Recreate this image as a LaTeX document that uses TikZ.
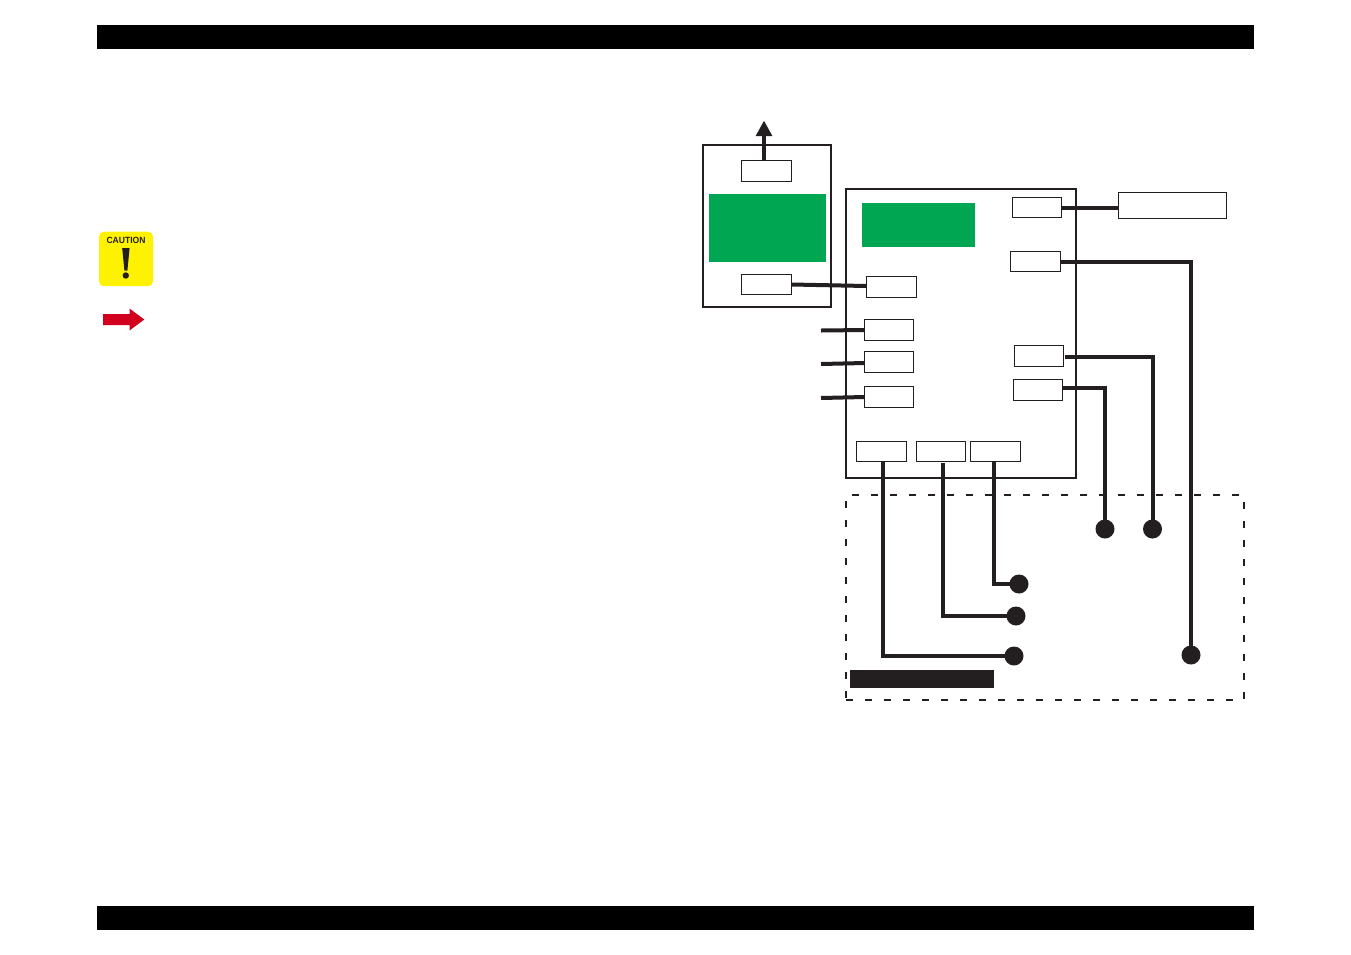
\documentclass[tikz,border=0pt]{standalone}
\usepackage{fontspec}
\setmainfont{Liberation Sans}
\usetikzlibrary{arrows.meta}
\definecolor{ink}{HTML}{231F20}
\definecolor{pcb}{HTML}{00A651}
\definecolor{warn}{HTML}{FFF200}
\definecolor{redarrow}{HTML}{D2001E}
\tikzset{
  rect/.style={rectangle,inner sep=0pt,outer sep=0pt,anchor=north west},
  frame/.style={rect,draw=ink,line width=2pt,fill=white},
  port/.style={rect,draw=ink,line width=1pt,fill=white},
  greenblock/.style={rect,fill=pcb},
  blackbar/.style={rect,fill=black},
  darkbar/.style={rect,fill=ink},
  wire/.style={draw=ink,line width=4pt,line join=miter},
  dot/.style={circle,fill=ink,inner sep=0pt,outer sep=0pt,minimum size=19pt},
  dashbox/.style={rect,draw=ink,line width=1.4pt,dash pattern=on 7pt off 12pt}
}
\newcommand{\bx}[6]{\node[#1,minimum width=#5pt-#3pt,minimum height=#6pt-#4pt] (#2) at (#3,#4) {};}
\begin{document}
\begin{tikzpicture}[x=1pt,y=-1pt]
\useasboundingbox (0,0) rectangle (1351,954);
\fill[white] (0,0) rectangle (1351,954);
% header and footer
\bx{blackbar}{hdr}{97}{25}{1254}{49}
\bx{blackbar}{ftr}{97}{906}{1254}{930}
% caution icon
\node[rect,fill=warn,rounded corners=5pt,minimum width=54pt,minimum height=54.5pt] (caution) at (99,231.7) {};
\node[font=\fontsize{9pt}{9pt}\selectfont,text=ink,inner sep=0pt,xscale=0.95] (cautiontext) at (126,240.7) {\textbf{CAUTION}};
\fill[ink] (122.2,248) -- (129.6,248) -- (127.4,270.5) -- (124.4,270.5) -- cycle;
\fill[ink] (125.8,275.5) circle (3.2pt);
% red arrow
\fill[redarrow] (103,314) -- (129.5,314) -- (129.5,308.5) -- (144.3,319.5) -- (129.5,330.5) -- (129.5,325) -- (103,325) -- cycle;
% dashed zone
\bx{dashbox}{zone}{846}{495}{1244}{700}
% frames
\bx{frame}{left}{703}{145}{831}{307}
\bx{frame}{main}{846}{189}{1076}{478}
% green blocks
\bx{greenblock}{gl}{709}{194}{826}{262}
\bx{greenblock}{gm}{862}{203}{975}{247}
% ports
\bx{port}{ltop}{741.5}{160.5}{791.5}{181}
\bx{port}{llow}{741.5}{274.5}{791.5}{294.5}
\bx{port}{ma}{866.5}{276.5}{916.5}{297.5}
\bx{port}{mb}{864.5}{319.5}{913.5}{340.5}
\bx{port}{mc}{864.5}{351.5}{913.5}{372.5}
\bx{port}{md}{864.5}{386.5}{913.5}{407.5}
\bx{port}{ra}{1012.5}{197.5}{1061.5}{217.5}
\bx{port}{rb}{1010.5}{251.5}{1060.5}{271.5}
\bx{port}{rc}{1014.5}{345.5}{1063.5}{366.5}
\bx{port}{rd}{1013.5}{379.5}{1062.5}{400.5}
\bx{port}{ba}{856.5}{441.5}{906.5}{461.5}
\bx{port}{bb}{916.5}{441.5}{965.5}{461.5}
\bx{port}{bc}{970.5}{441.5}{1020.5}{461.5}
\bx{port}{ext}{1118.5}{192.5}{1226.5}{218.5}
% black label bar
\bx{darkbar}{lbl}{850}{670}{994}{688}
% terminals
\node[dot] (d1) at (1105,529) {};
\node[dot] (d2) at (1152.5,529) {};
\node[dot] (d3) at (1019,584) {};
\node[dot] (d4) at (1016,616) {};
\node[dot] (d5) at (1014,656) {};
\node[dot] (d6) at (1191,655) {};
% free ends
\coordinate (up) at (764,120.5);
\coordinate (sb) at (821,330.5);
\coordinate (sc) at (821,364);
\coordinate (sd) at (821,398);
% connectors
\draw[wire,-{Triangle[length=15.5pt,width=15.5pt]}] (ltop.north -| up) -- (up);
\draw[wire] (llow.east) -- ([yshift=1pt]ma.west);
\draw[wire] (sb) -- (mb.west);
\draw[wire] (sc) -- ([yshift=-1pt]mc.west);
\draw[wire] (sd) -- (md.west);
\draw[wire] (ra.east) -- (ra.east -| ext.west);
\draw[wire] (rb.east) -| (d6.center);
\draw[wire] ([xshift=1.5pt,yshift=-1pt]rc.east) -| (d2.center);
\draw[wire] ([yshift=2pt]rd.east) -| (d1.center);
\draw[wire] ([xshift=1.5pt]ba.south) |- (d5.center);
\draw[wire] ([xshift=2pt,yshift=-1.5pt]bb.south) |- (d4.center);
\draw[wire] ([xshift=-1.5pt]bc.south) |- (d3.center);
\end{tikzpicture}
\end{document}
